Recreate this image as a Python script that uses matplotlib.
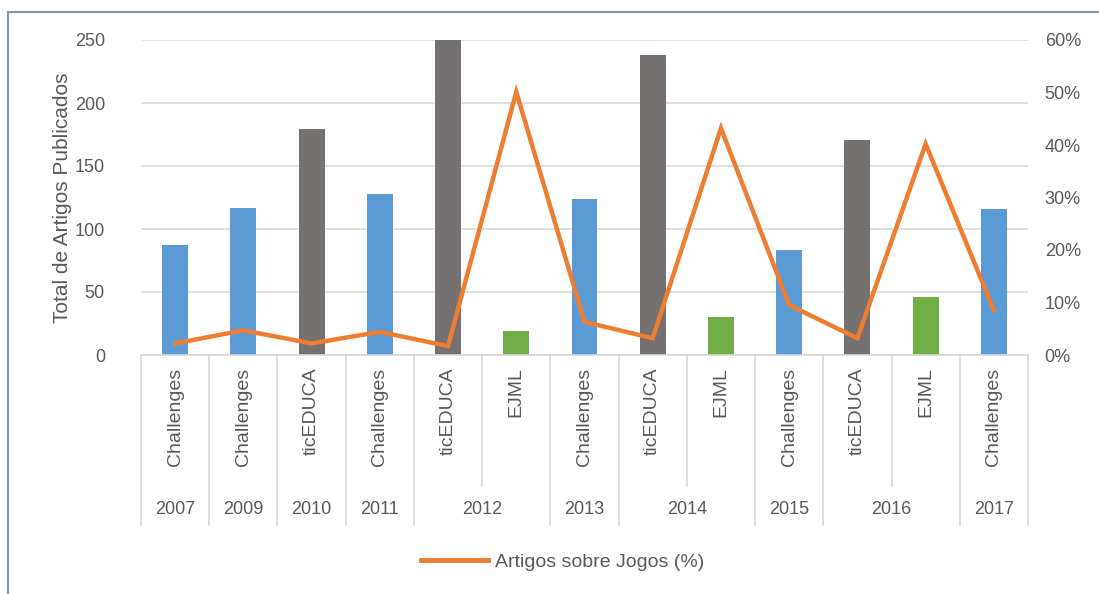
import matplotlib.pyplot as plt
from matplotlib.patches import Rectangle
from matplotlib.lines import Line2D
from matplotlib.ticker import PercentFormatter

plt.rcParams['font.family'] = ['Liberation Sans Narrow', 'Liberation Sans', 'DejaVu Sans']

venues = ["Challenges", "Challenges", "ticEDUCA", "Challenges", "ticEDUCA", "EJML",
          "Challenges", "ticEDUCA", "EJML", "Challenges", "ticEDUCA", "EJML", "Challenges"]
years = ["2007", "2009", "2010", "2011", "2012", "2012",
         "2013", "2014", "2014", "2015", "2016", "2016", "2017"]
total_articles = [87, 117, 179, 128, 250, 19, 124, 238, 30, 83, 171, 46, 116]
games_pct = [2.2, 4.7, 2.2, 4.4, 1.7, 50.1, 6.3, 3.2, 43.2, 9.5, 3.2, 40.2, 8.5]

venue_colors = {"Challenges": "#5B9BD5", "ticEDUCA": "#767171", "EJML": "#70AD47"}
text_gray = "#595959"
grid_gray = "#D9D9D9"

fig = plt.figure(figsize=(10.99, 5.94), dpi=100)
ax = fig.add_axes([141 / 1099, 239 / 594, 887 / 1099, 315 / 594])

x = list(range(len(venues)))
ax.bar(x, total_articles, width=0.38, color=[venue_colors[v] for v in venues], zorder=2)
ax.set_xlim(-0.5, len(venues) - 0.5)
ax.set_ylim(0, 250)
ax.set_yticks(range(0, 251, 50))
ax.grid(axis="y", color=grid_gray, linewidth=1.2, zorder=0)
ax.set_xticks([])
for s in ["top", "right", "left"]:
    ax.spines[s].set_visible(False)
ax.spines["bottom"].set_color(grid_gray)
ax.spines["bottom"].set_linewidth(1.2)
ax.tick_params(axis="y", length=0, labelsize=13, labelcolor=text_gray, pad=26)
ax.set_ylabel("Total de Artigos Publicados", fontsize=15, color=text_gray, labelpad=2)

ax2 = ax.twinx()
ax2.plot(x, [p / 100 for p in games_pct], color="#ED7D31", linewidth=3.2,
         solid_joinstyle="miter", zorder=3)
ax2.set_ylim(0, 0.6)
ax2.set_yticks([i / 10 for i in range(7)])
ax2.yaxis.set_major_formatter(PercentFormatter(1.0, decimals=0))
ax2.tick_params(axis="y", length=0, labelsize=13, labelcolor=text_gray, pad=12)
for s in ax2.spines.values():
    s.set_visible(False)

# multi-level category axis
trans = ax.get_xaxis_transform()
cat_bottom = -0.415
year_bottom = -0.54
for i, v in enumerate(venues):
    ax.text(i, -0.04, v, rotation=90, ha="center", va="top", fontsize=14,
            color=text_gray, transform=trans)

for i in range(1, len(years)):
    yb = year_bottom if years[i] != years[i - 1] else cat_bottom
    ax.plot([i - 0.5, i - 0.5], [0, yb], color=grid_gray, lw=1.2,
            transform=trans, clip_on=False)
for xb in [-0.5, len(years) - 0.5]:
    ax.plot([xb, xb], [0, year_bottom], color=grid_gray, lw=1.2,
            transform=trans, clip_on=False)

start = 0
for i in range(1, len(years) + 1):
    if i == len(years) or years[i] != years[start]:
        ax.text((start + i - 1) / 2, -0.49, years[start], ha="center", va="center",
                fontsize=13, color=text_gray, transform=trans)
        start = i

handle = Line2D([0], [0], color="#ED7D31", linewidth=3.5)
fig.legend([handle], ["Artigos sobre Jogos (%)"], loc="center",
           bbox_to_anchor=(563 / 1099, 1 - 562 / 594), frameon=False,
           fontsize=14, labelcolor=text_gray, handlelength=3.4, handletextpad=0.4)

fig.patches.append(Rectangle((8 / 1099, -0.1), 1.2, 1.1 - 12 / 594, transform=fig.transFigure,
                             fill=False, edgecolor="#8496B0", linewidth=1.5))

fig.savefig("out.png", dpi=100)
